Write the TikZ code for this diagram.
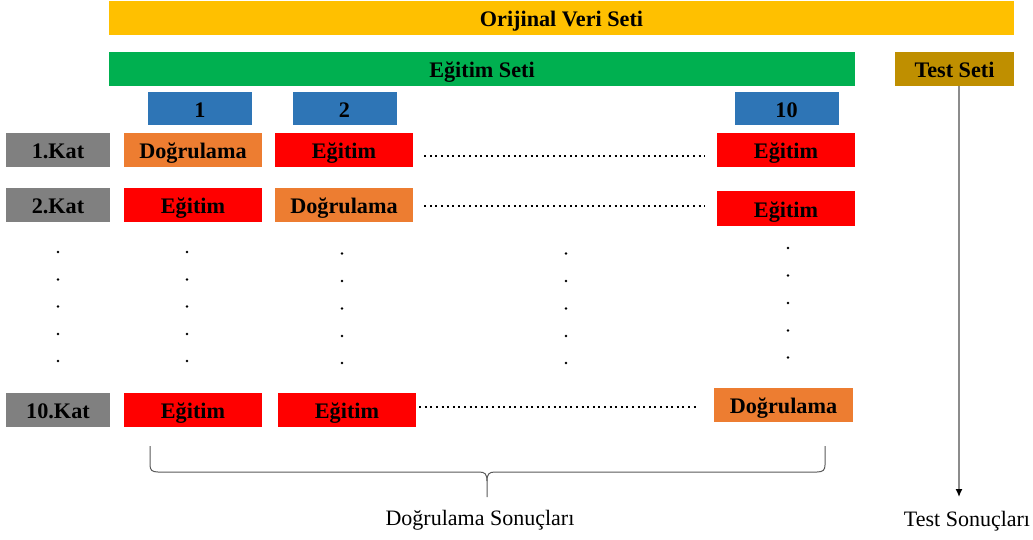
\documentclass[tikz,border=0pt]{standalone}
\usepackage{fontspec}
\setmainfont{Liberation Serif}
\usetikzlibrary{arrows.meta}
\definecolor{cOrig}{HTML}{FFC000}
\definecolor{cTrain}{HTML}{00B050}
\definecolor{cTest}{HTML}{BF8F00}
\definecolor{cFold}{HTML}{2E75B6}
\definecolor{cVal}{HTML}{ED7D31}
\definecolor{cFit}{HTML}{FF0000}
\definecolor{cKat}{HTML}{808080}
\definecolor{cLine}{HTML}{8C8C8C}
\definecolor{cBrace}{HTML}{595959}
\begin{document}
\begin{tikzpicture}[x=1pt,y=-1pt,
  box/.style={inner sep=0pt, text=black, font=\fontsize{22.2}{26}\selectfont\bfseries,
              text height=20pt, text depth=2.2pt},
  bar/.style={box, minimum height=34pt},
  fold/.style={box, fill=cFold, minimum width=104pt, minimum height=33pt},
  kat/.style={box, fill=cKat, minimum width=104pt, minimum height=34pt},
  fit/.style={box, fill=cFit, minimum width=138pt, minimum height=34pt},
  val/.style={box, fill=cVal, minimum width=138pt, minimum height=34pt},
  dotrow/.style={line width=2pt, dash pattern=on 2pt off 3.6pt},
  vdot/.style={fill=black},
  result/.style={inner sep=0pt, font=\fontsize{22}{26}\selectfont},
  brace/.style={draw=cBrace, line width=1pt},
  flow/.style={draw=cLine, line width=1.3pt, -{Latex[length=8pt,width=7pt,color=black]}}]
\useasboundingbox (0,0) rectangle (1033,540);

% data set bars
\node[bar, fill=cOrig,  minimum width=905pt] (orig)  at (561.5,18) {Orijinal Veri Seti};
\node[bar, fill=cTrain, minimum width=746pt] (train) at (482,69)   {Eğitim Seti};
\node[bar, fill=cTest,  minimum width=119pt] (test)  at (954.5,69) {Test Seti};

% fold headers
\node[fold] (f1)  at (200,108.5)   {1};
\node[fold] (f2)  at (344.5,108.5) {2};
\node[fold] (f10) at (786.5,108.5) {10};

% first fold
\node[kat] (k1)  at (58,150)  {1.Kat};
\node[val] (r1a) at (193,150) {Doğrulama};
\node[fit] (r1b) at (344,150) {Eğitim};
\node[fit] (r1c) at (786,150) {Eğitim};

% second fold
\node[kat] (k2)  at (58,205)    {2.Kat};
\node[fit] (r2a) at (193,205)   {Eğitim};
\node[val] (r2b) at (344,205)   {Doğrulama};
\node[fit] (r2c) at (786,208.5) {Eğitim};

% tenth fold
\node[kat] (k10)  at (58,410)    {10.Kat};
\node[fit] (r10a) at (193,410)   {Eğitim};
\node[fit] (r10b) at (347,410)   {Eğitim};
\node[val, minimum width=139pt] (r10c) at (783.5,405) {Doğrulama};

% dotted continuation lines
\coordinate (d1) at (705,156);
\coordinate (d2) at (705,206);
\coordinate (d10) at (698,407);
\draw[dotrow] (r1b.east |- d1) ++(11,0) -- (d1);
\draw[dotrow] (r2b.east |- d2) ++(11,0) -- (d2);
\draw[dotrow] (r10b.east |- d10) ++(3,0) -- (d10);

% vertical ellipsis dots
\foreach \y in {252,279.5,306.5,334,361} {
  \fill[vdot] (58,\y) circle (1.4pt);
  \fill[vdot] (187,\y) circle (1.4pt);
}
\foreach \y in {253.5,281,308.5,336,363} {
  \fill[vdot] (342,\y) circle (1.4pt);
  \fill[vdot] (566,\y) circle (1.4pt);
}
\foreach \y in {248,275.5,303,330.5,357.5}
  \fill[vdot] (788,\y) circle (1.4pt);

% brace over the validation results
\draw[brace] (150,446) -- (150,465) .. controls (150,470) and (152,472) .. (158,472)
  -- (479,472) .. controls (485,472) and (487,474) .. (487,481) -- (487,497);
\draw[brace] (487,481) .. controls (487,474) and (489,472) .. (495,472)
  -- (817,472) .. controls (823,472) and (825,470) .. (825,465) -- (825,446);
\node[result] (vres) at (480,520) {Doğrulama Sonuçları};

% test results
\coordinate (tend) at (959,497);
\draw[flow] ([xshift=4.5pt]test.south) -- (tend);
\node[result] (tres) at (967,521) {Test Sonuçları};
\end{tikzpicture}
\end{document}
